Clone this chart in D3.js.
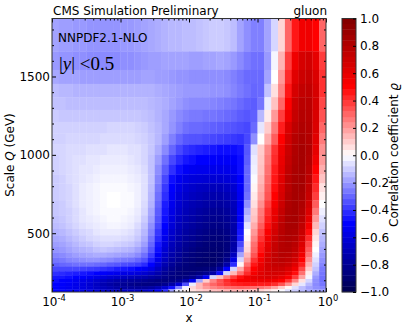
<!DOCTYPE html>
<html><head><meta charset="utf-8">
<script src="https://cdn.jsdelivr.net/npm/d3@7"></script>
<style>html,body{margin:0;padding:0;background:#fff}svg{display:block}text{font-family:"DejaVu Sans";fill:#000}</style>
</head><body><svg id="c" width="407" height="329"></svg>
<script>
const logXEdges=[-4,-3.9,-3.8,-3.7,-3.6,-3.5,-3.4,-3.3,-3.2,-3.1,-3,-2.9,-2.8,-2.7,-2.6,-2.5,-2.4,-2.3,-2.2,-2.1,-2,-1.9,-1.8,-1.7,-1.6,-1.5,-1.4,-1.3,-1.2,-1.1,-1,-0.9,-0.8,-0.7,-0.6,-0.5,-0.4,-0.3,-0.2,-0.1,0];
const qEdges=[1870,1660,1542,1453,1368,1287,1210,1136,1066,999,936,875,818,763,711,662,615,570,527,487,449,412,378,346,315,286,258,232,208,185,163,143,125];
const yTickLabels=[500,1000,1500];
const xTickExponents=[-4,-3,-2,-1,0];
const barTickLabels=["\u22121.0","\u22120.8","\u22120.6","\u22120.4","\u22120.2","0.0","0.2","0.4","0.6","0.8","1.0"];
const barTickValues=[-1,-0.8,-0.6,-0.4,-0.2,0,0.2,0.4,0.6,0.8,1];
// correlation x100, top row first
const rho=[
[-18,-19,-19,-20,-20,-21,-21,-21,-21,-21,-20,-20,-19,-18,-17,-16,-15,-14,-14,-13,-13,-12,-11,-10,-10,-11,-13,-18,-22,-25,-25,-18,-8,8,30,46,55,56,50,30],
[-20,-21,-21,-22,-22,-23,-23,-23,-23,-23,-22,-22,-21,-20,-19,-19,-18,-18,-18,-18,-19,-19,-18,-18,-17,-18,-20,-23,-26,-28,-28,-20,-2,15,38,56,66,68,60,38],
[-17,-18,-18,-18,-19,-19,-19,-19,-19,-19,-19,-19,-19,-18,-18,-19,-19,-20,-21,-21,-22,-22,-22,-22,-22,-23,-25,-27,-29,-29,-29,-18,0,20,42,62,70,72,64,40],
[-13,-14,-14,-15,-15,-15,-15,-15,-15,-15,-15,-15,-15,-15,-15,-16,-17,-18,-19,-20,-20,-20,-20,-21,-21,-22,-24,-26,-28,-30,-29,-12,6,24,46,66,74,75,66,40],
[-12,-12,-13,-13,-13,-13,-13,-13,-13,-13,-13,-13,-13,-13,-14,-15,-16,-18,-20,-22,-23,-23,-23,-24,-25,-26,-27,-29,-31,-32,-27,-4,12,30,50,70,77,77,66,36],
[-10,-11,-11,-11,-11,-11,-11,-11,-11,-11,-11,-11,-11,-12,-13,-15,-17,-20,-23,-25,-26,-26,-27,-27,-28,-29,-30,-32,-33,-31,-14,4,20,38,56,73,79,78,65,34],
[-9,-9,-9,-9,-9,-9,-9,-9,-8,-8,-8,-8,-9,-10,-12,-14,-17,-21,-25,-28,-29,-29,-30,-31,-32,-33,-34,-35,-36,-29,-5,10,26,44,64,76,81,79,64,30],
[-9,-9,-8,-8,-8,-8,-8,-7,-7,-7,-7,-7,-8,-9,-11,-14,-19,-25,-30,-33,-34,-34,-35,-36,-37,-38,-39,-40,-36,-22,0,16,32,50,68,79,83,80,62,26],
[-8,-8,-7,-7,-7,-6,-6,-6,-5,-5,-5,-6,-6,-8,-11,-16,-23,-30,-36,-40,-42,-43,-44,-45,-47,-48,-48,-46,-33,-6,10,24,40,56,71,81,85,81,60,22],
[-9,-8,-7,-6,-6,-5,-5,-4,-4,-4,-4,-5,-6,-8,-12,-19,-28,-36,-42,-46,-48,-49,-50,-51,-52,-52,-51,-47,-32,-4,11,26,42,58,73,82,85,80,56,20],
[-9,-8,-7,-6,-5,-5,-4,-3,-3,-3,-3,-4,-5,-7,-12,-22,-32,-41,-48,-52,-54,-55,-55,-56,-56,-56,-54,-48,-30,-3,12,28,44,60,75,83,85,78,50,16],
[-10,-9,-7,-6,-5,-4,-3,-2,-2,-2,-2,-3,-4,-6,-12,-24,-36,-47,-54,-58,-60,-61,-62,-62,-62,-61,-58,-50,-30,-1,14,30,46,62,77,84,85,76,46,12],
[-10,-9,-8,-6,-4,-3,-2,-1,-1,-1,-1,-2,-3,-6,-13,-26,-39,-50,-57,-62,-65,-67,-68,-69,-69,-67,-63,-52,-30,2,16,32,48,64,78,85,85,74,42,6],
[-10,-9,-8,-6,-4,-3,-2,-1,0,0,-1,-1,-3,-6,-14,-28,-41,-52,-60,-65,-68,-70,-72,-73,-73,-71,-66,-54,-28,4,18,34,50,66,80,85,84,72,38,3],
[-11,-10,-8,-6,-4,-3,-2,-1,0,0,-1,-1,-3,-7,-15,-30,-44,-55,-63,-68,-71,-73,-75,-76,-77,-75,-69,-54,-22,6,22,38,54,70,82,85,82,68,32,0],
[-11,-10,-9,-7,-5,-3,-2,-1,-1,-1,-1,-2,-4,-8,-17,-32,-46,-57,-65,-70,-73,-76,-78,-80,-80,-78,-71,-52,-16,10,26,42,58,73,83,85,80,64,26,-3],
[-12,-11,-9,-7,-5,-4,-3,-2,-1,-1,-2,-3,-5,-10,-19,-34,-48,-59,-67,-72,-75,-78,-80,-82,-82,-80,-73,-52,-12,12,28,44,60,75,84,85,78,60,20,-6],
[-13,-12,-10,-8,-6,-5,-4,-3,-2,-2,-3,-4,-7,-12,-22,-36,-50,-61,-69,-74,-77,-80,-82,-84,-84,-82,-74,-48,-5,16,32,48,64,77,84,84,75,54,14,-9],
[-15,-14,-12,-10,-8,-7,-5,-4,-4,-4,-5,-6,-9,-14,-24,-39,-53,-64,-71,-76,-79,-82,-84,-86,-86,-84,-75,-46,0,20,36,52,67,78,83,82,72,48,8,-12],
[-17,-16,-14,-12,-10,-8,-7,-6,-6,-6,-7,-8,-11,-16,-27,-42,-56,-66,-73,-78,-81,-84,-86,-88,-88,-86,-76,-44,2,24,40,56,70,79,82,80,68,42,5,-14],
[-19,-18,-16,-14,-12,-11,-9,-8,-8,-9,-10,-11,-14,-19,-30,-45,-59,-69,-75,-80,-83,-86,-88,-89,-89,-87,-75,-36,6,28,44,60,72,79,81,77,64,36,2,-16],
[-21,-20,-18,-16,-15,-14,-12,-11,-12,-13,-14,-15,-18,-23,-33,-48,-62,-71,-77,-82,-85,-88,-89,-90,-90,-87,-74,-30,8,30,46,62,73,79,80,75,60,32,0,-18],
[-24,-23,-21,-19,-18,-17,-16,-16,-17,-18,-19,-20,-23,-28,-38,-52,-65,-74,-79,-84,-87,-89,-90,-91,-90,-86,-68,-18,14,34,50,65,74,79,78,72,56,28,-3,-20],
[-27,-26,-24,-23,-22,-21,-21,-22,-23,-25,-26,-27,-30,-34,-43,-56,-68,-76,-81,-86,-88,-90,-91,-92,-90,-83,-58,-8,20,40,54,67,74,77,75,68,50,22,-6,-22],
[-31,-30,-29,-28,-28,-28,-29,-30,-32,-33,-35,-36,-38,-42,-50,-61,-72,-79,-84,-87,-89,-91,-91,-91,-87,-75,-42,2,28,46,58,68,73,74,71,62,44,16,-9,-24],
[-36,-36,-36,-36,-37,-38,-39,-40,-42,-44,-46,-47,-49,-53,-58,-67,-76,-82,-86,-88,-89,-89,-88,-86,-77,-50,-8,16,36,50,60,67,70,70,65,55,36,10,-12,-26],
[-41,-42,-43,-44,-46,-47,-49,-51,-53,-55,-57,-58,-60,-63,-67,-73,-80,-84,-87,-88,-87,-85,-82,-75,-48,-8,14,28,42,54,62,66,67,66,60,48,28,4,-16,-27],
[-45,-46,-47,-49,-51,-54,-57,-60,-63,-65,-67,-69,-71,-73,-76,-79,-83,-86,-87,-86,-82,-74,-54,-8,12,26,38,48,55,60,63,65,64,60,52,38,18,-2,-20,-28],
[-48,-49,-51,-54,-57,-60,-64,-68,-71,-74,-76,-78,-79,-81,-83,-85,-86,-85,-83,-75,-55,-18,10,24,34,42,48,52,54,56,57,57,55,50,40,24,6,-8,-22,-28],
[-50,-51,-53,-56,-59,-63,-67,-72,-75,-78,-80,-82,-84,-85,-85,-84,-81,-75,-62,-35,-4,14,24,30,35,40,43,45,46,46,45,44,41,34,22,8,-5,-14,-23,-27],
[-50,-52,-54,-56,-59,-62,-66,-69,-72,-75,-77,-78,-79,-78,-76,-71,-62,-48,-25,-3,8,14,20,24,27,29,30,31,30,29,27,24,18,10,2,-6,-13,-18,-22,-24],
[-50,-51,-53,-55,-57,-59,-62,-64,-66,-67,-68,-68,-68,-66,-62,-55,-42,-20,-4,3,6,9,11,13,14,15,15,14,13,11,9,6,3,-1,-6,-10,-14,-17,-19,-20]
];
const svg=d3.select("#c");
const L=52,R=326,T=18.5,B=292,CL=342,CR=356;
const x=d3.scaleLog().domain([1e-4,1]).range([L,R]);
const y=d3.scaleLinear().domain([125,1870]).range([B,T]);
const seismic=d3.scaleLinear().domain([-1,-0.5,0,0.5,1]).range(["#00004d","#0000ff","#ffffff","#ff0000","#800000"]);
const levels=50;
const step=d3.scaleQuantize().domain([-1,1]).range(d3.range(levels).map(i=>seismic(-1+(i+0.5)*2/levels)));
const defs=svg.append("defs");
defs.append("clipPath").attr("id","pa").append("rect").attr("x",L).attr("y",T).attr("width",R-L).attr("height",B-T);
defs.append("filter").attr("id","soft").attr("x","-5%").attr("y","-5%").attr("width","110%").attr("height","110%")
 .append("feGaussianBlur").attr("stdDeviation",0.7);
// heat map
const cells=[];
rho.forEach((row,j)=>row.forEach((v,i)=>cells.push({i,j,v:v/100})));
const ov=0.3;
svg.append("g").attr("clip-path","url(#pa)").append("g").attr("filter","url(#soft)").selectAll("rect").data(cells).join("rect")
 .attr("x",d=>x(10**logXEdges[d.i])).attr("width",d=>x(10**logXEdges[d.i+1])-x(10**logXEdges[d.i])+ov)
 .attr("y",d=>y(qEdges[d.j])).attr("height",d=>y(qEdges[d.j+1])-y(qEdges[d.j])+ov)
 .attr("fill",d=>seismic(d.v));
// axes
const dom=g=>g.select(".domain").remove();
const minorY=d3.range(200,1900,100).filter(v=>v%500);
const minorX=[];xTickExponents.slice(0,-1).forEach(e=>{for(const m of [2,3,4,5,6,7,8,9])minorX.push(m*10**e);});
const gy=svg.append("g").attr("transform",`translate(${L},0)`).call(d3.axisLeft(y).tickValues(yTickLabels).tickSize(-4).tickPadding(2).tickFormat(d3.format("d")));
gy.call(dom);gy.selectAll("text").attr("font-size",12).attr("fill","#000");
svg.append("g").attr("transform",`translate(${L},0)`).call(d3.axisLeft(y).tickValues(minorY).tickSize(-2).tickFormat("")).call(dom);
svg.append("g").attr("transform",`translate(${R},0)`).call(d3.axisRight(y).tickValues(yTickLabels).tickSize(-4).tickFormat("")).call(dom);
svg.append("g").attr("transform",`translate(${R},0)`).call(d3.axisRight(y).tickValues(minorY).tickSize(-2).tickFormat("")).call(dom);
const gx=svg.append("g").attr("transform",`translate(0,${B})`).call(d3.axisBottom(x).tickValues(xTickExponents.map(e=>10**e)).tickSize(-4).tickFormat(""));
gx.call(dom);
svg.append("g").attr("transform",`translate(0,${B})`).call(d3.axisBottom(x).tickValues(minorX).tickSize(-2).tickFormat("")).call(dom);
svg.append("g").attr("transform",`translate(0,${T})`).call(d3.axisTop(x).tickValues(xTickExponents.map(e=>10**e)).tickSize(-4).tickFormat("")).call(dom);
svg.append("g").attr("transform",`translate(0,${T})`).call(d3.axisTop(x).tickValues(minorX).tickSize(-2).tickFormat("")).call(dom);
const xl=svg.append("g").selectAll("text").data(xTickExponents).join("text")
 .attr("x",e=>x(10**e)+2).attr("y",306).attr("text-anchor","middle").attr("font-size",12);
xl.append("tspan").text("10");
xl.append("tspan").attr("dy",-5).attr("font-size",8.4).text(e=>e);
svg.append("rect").attr("x",L).attr("y",T).attr("width",R-L).attr("height",B-T).attr("fill","none").attr("stroke","#333").attr("stroke-width",1);
// colour bar
const cb=d3.scaleLinear().domain([-1,1]).range([B,T]);
svg.append("g").selectAll("rect").data(d3.range(levels)).join("rect")
 .attr("x",CL).attr("width",CR-CL)
 .attr("y",i=>cb(-1+(i+1)*2/levels)-0.2).attr("height",i=>cb(-1+i*2/levels)-cb(-1+(i+1)*2/levels)+0.4)
 .attr("fill",i=>step(-1+(i+0.5)*2/levels));
svg.append("rect").attr("x",CL).attr("y",T).attr("width",CR-CL).attr("height",B-T).attr("fill","none").attr("stroke","#333");
const gc=svg.append("g").attr("transform",`translate(${CR},0)`).call(d3.axisRight(cb).tickValues(barTickValues).tickSize(-3).tickPadding(4).tickFormat((d,i)=>barTickLabels[i]));
gc.call(dom);gc.selectAll("text").attr("font-size",12).attr("fill","#000").attr("x",4);
// text
const t=(s,px,py,o={})=>svg.append("text").attr("x",px).attr("y",py).attr("font-size",o.fs||12).attr("text-anchor",o.a||"start").text(s);
t("CMS Simulation Preliminary",53,15);
t("gluon",327,15,{a:"end"});
t("NNPDF2.1-NLO",58,42);
const m=svg.append("text").attr("x",59).attr("y",69.5).attr("font-size",19).style("font-family","'Liberation Serif'");
m.append("tspan").text("|");m.append("tspan").attr("font-style","italic").text("y");m.append("tspan").text("| <0.5");
t("x",189,322,{a:"middle"});
const yl=svg.append("text").attr("transform","translate(14,155) rotate(-90)").attr("text-anchor","middle").attr("font-size",12);
yl.append("tspan").text("Scale ");yl.append("tspan").attr("font-style","italic").text("Q");yl.append("tspan").text(" (GeV)");
const cl=svg.append("text").attr("transform","translate(398,155) rotate(-90)").attr("text-anchor","middle").attr("font-size",12);
cl.append("tspan").text("Correlation coefficient ");cl.append("tspan").attr("font-style","italic").text("\u03f1");
</script></body></html>
